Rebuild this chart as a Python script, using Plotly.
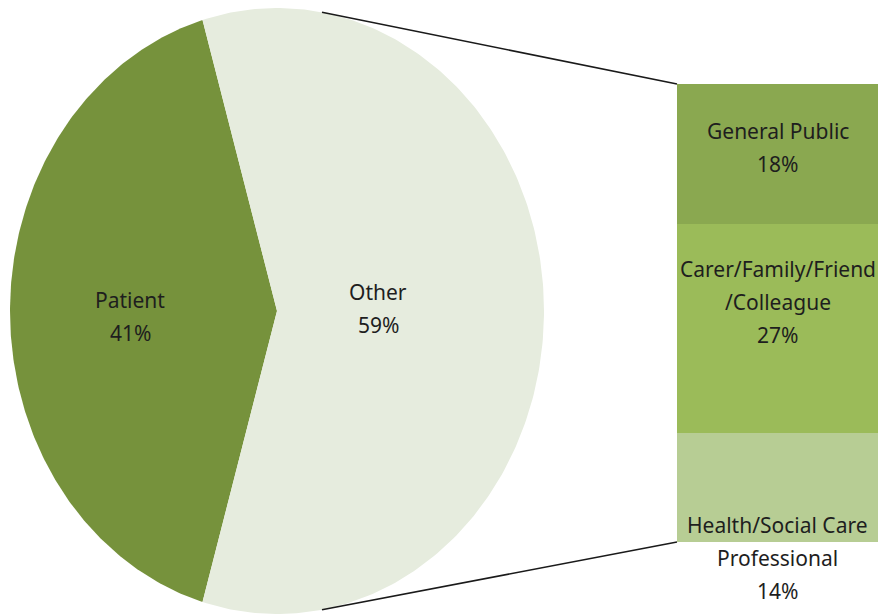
import math
import plotly.graph_objects as go

# ---------------- data ----------------
pie_labels = ["Patient", "Other"]
pie_values = [41, 59]
bar_labels = ["General Public", "Carer/Family/Friend<br>/Colleague", "Health/Social Care<br>Professional"]
bar_values = [18, 27, 14]   # top to bottom, breakdown of "Other"

# ---------------- style ----------------
W, H = 880, 614
pie_colors = ["#76923C", "#E6ECDE"]
bar_colors = ["#8AA850", "#9BBB59", "#B7CD94"]
FONT = "Noto Sans"
FS = 21
TXT = "#1e1e1e"
LINE_GAP = 33  # px between label lines

pie_dom_x = [10 / W, 544 / W]
pie_dom_y = [1 - 614 / H, 1 - 8 / H]
bar_dom_x = [677 / W, 878 / W]
bar_dom_y = [1 - 542 / H, 1 - 84 / H]

label_radius = [0.55, 0.38]       # fraction of radius for pie labels
pie_label_shift = [5, -3]         # px (down +) of pie label block
label_first_shift = [-23, -60, 37]  # px offset of first bar-label line from segment centre (down +)
connector_angle = 80.3            # degrees, where connector lines leave the pie

fig = go.Figure()

# ---------------- pie (drawn as filled polygons on an elliptical axis) ----------------
total = sum(pie_values)
start = 180 - pie_values[0] / total * 180  # Patient centred on the left
angles = []
a = start
for v in pie_values:
    sweep = v / total * 360
    angles.append((a, a + sweep))
    a += sweep

for (a0, a1), lab, v, col, lr, sh in zip(angles, pie_labels, pie_values, pie_colors,
                                          label_radius, pie_label_shift):
    n = 240
    xs, ys = [0.0], [0.0]
    for i in range(n + 1):
        t = math.radians(a0 + (a1 - a0) * i / n)
        xs.append(math.cos(t))
        ys.append(math.sin(t))
    xs.append(0.0)
    ys.append(0.0)
    fig.add_trace(go.Scatter(x=xs, y=ys, mode="lines", fill="toself", fillcolor=col,
                             line=dict(width=0, color=col), hoverinfo="skip",
                             showlegend=False, xaxis="x", yaxis="y"))
    mid = math.radians((a0 + a1) / 2)
    lx, ly = lr * math.cos(mid), lr * math.sin(mid)
    lines = [lab, f"{v}%"]
    for k, t in enumerate(lines):
        fig.add_annotation(x=lx, y=ly, xref="x", yref="y", text=t, showarrow=False,
                           yshift=-(sh + k * LINE_GAP - LINE_GAP / 2 * (len(lines) - 1)),
                           font=dict(family=FONT, size=FS, color=TXT))

# ---------------- stacked bar ----------------
cum = 0
order = list(range(len(bar_values)))[::-1]  # bottom first
bottoms = {}
for i in order:
    bottoms[i] = cum
    cum += bar_values[i]
for i in order:
    fig.add_trace(go.Bar(x=[0], y=[bar_values[i]], marker=dict(color=bar_colors[i], line=dict(width=0)),
                         width=1, hoverinfo="skip", showlegend=False, xaxis="x2", yaxis="y2"))
bar_total = sum(bar_values)
for i, (lab, v) in enumerate(zip(bar_labels, bar_values)):
    centre = bottoms[i] + v / 2
    lines = lab.split("<br>") + [f"{v}%"]
    for k, t in enumerate(lines):
        fig.add_annotation(x=0, y=centre, xref="x2", yref="y2", text=t, showarrow=False,
                           yshift=-(label_first_shift[i] + k * LINE_GAP),
                           font=dict(family=FONT, size=FS, color=TXT))

# ---------------- connector lines ----------------
def pie_paper(nx, ny):
    return (pie_dom_x[0] + (nx + 1) / 2 * (pie_dom_x[1] - pie_dom_x[0]),
            pie_dom_y[0] + (ny + 1) / 2 * (pie_dom_y[1] - pie_dom_y[0]))

for sgn, by in [(1, bar_dom_y[1]), (-1, bar_dom_y[0])]:
    t = math.radians(sgn * connector_angle)
    px, py = pie_paper(math.cos(t), math.sin(t))
    fig.add_shape(type="line", xref="paper", yref="paper", x0=px, y0=py, x1=bar_dom_x[0], y1=by,
                  line=dict(color="#1a1a1a", width=1.6))

ax = dict(visible=False, fixedrange=True, showgrid=False, zeroline=False)
fig.update_layout(
    width=W, height=H,
    margin=dict(l=0, r=0, t=0, b=0),
    paper_bgcolor="white", plot_bgcolor="white",
    xaxis=dict(domain=pie_dom_x, range=[-1, 1], **ax),
    yaxis=dict(domain=pie_dom_y, range=[-1, 1], **ax),
    xaxis2=dict(domain=bar_dom_x, range=[-0.5, 0.5], anchor="y2", **ax),
    yaxis2=dict(domain=bar_dom_y, range=[0, bar_total], anchor="x2", **ax),
    barmode="stack", bargap=0,
    showlegend=False,
)
fig.write_html("out.html", config={"displayModeBar": False},
               post_script="document.body.style.margin='0';document.body.style.overflow='hidden';")
